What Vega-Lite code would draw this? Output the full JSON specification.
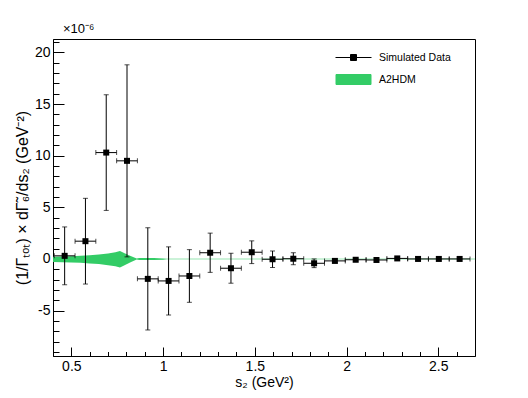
{
  "$schema": "https://vega.github.io/schema/vega-lite/v6.json",
  "width": 422,
  "height": 317,
  "autosize": {"type": "none"},
  "padding": {"left": 53, "top": 39, "right": 53, "bottom": 42},
  "background": "white",
  "config": {
    "view": {"stroke": "black", "strokeWidth": 1},
    "font": "Liberation Sans",
    "axis": {
      "domainColor": "black", "tickColor": "black", "labelColor": "black", "titleColor": "black",
      "grid": false, "labelFont": "Liberation Sans", "titleFont": "Liberation Sans",
      "labelFontSize": 14, "titleFontSize": 14, "titleFontWeight": "normal", "tickWidth": 1, "domainWidth": 1
    }
  },
  "title": {"text": "×10⁻⁶", "anchor": "start", "frame": "group", "fontSize": 13, "fontWeight": "normal", "font": "Liberation Sans", "offset": 3, "dx": 10, "color": "black"},
  "datasets": {
    "sim": [
      {"series": "Simulated Data", "s2": 0.4635, "xlo": 0.4069, "xhi": 0.5201, "y": 0.3, "ylo": -2.5, "yhi": 3.1},
      {"series": "Simulated Data", "s2": 0.5768, "xlo": 0.5202, "xhi": 0.6334, "y": 1.72, "ylo": -2.43, "yhi": 5.87},
      {"series": "Simulated Data", "s2": 0.6901, "xlo": 0.6335, "xhi": 0.7467, "y": 10.3, "ylo": 4.7, "yhi": 15.9},
      {"series": "Simulated Data", "s2": 0.8034, "xlo": 0.7468, "xhi": 0.86, "y": 9.5, "ylo": 0.2, "yhi": 18.8},
      {"series": "Simulated Data", "s2": 0.9167, "xlo": 0.8601, "xhi": 0.9733, "y": -1.93, "ylo": -6.88, "yhi": 3.02},
      {"series": "Simulated Data", "s2": 1.03, "xlo": 0.9734, "xhi": 1.0866, "y": -2.13, "ylo": -5.43, "yhi": 1.17},
      {"series": "Simulated Data", "s2": 1.1433, "xlo": 1.0867, "xhi": 1.1999, "y": -1.65, "ylo": -4.2, "yhi": 0.9},
      {"series": "Simulated Data", "s2": 1.2566, "xlo": 1.2, "xhi": 1.3132, "y": 0.6, "ylo": -1.3, "yhi": 2.5},
      {"series": "Simulated Data", "s2": 1.3699, "xlo": 1.3133, "xhi": 1.4265, "y": -0.9, "ylo": -2.35, "yhi": 0.55},
      {"series": "Simulated Data", "s2": 1.4832, "xlo": 1.4266, "xhi": 1.5398, "y": 0.65, "ylo": -0.45, "yhi": 1.75},
      {"series": "Simulated Data", "s2": 1.5965, "xlo": 1.5399, "xhi": 1.6531, "y": -0.03, "ylo": -0.83, "yhi": 0.77},
      {"series": "Simulated Data", "s2": 1.7098, "xlo": 1.6532, "xhi": 1.7664, "y": 0.02, "ylo": -0.56, "yhi": 0.6},
      {"series": "Simulated Data", "s2": 1.8231, "xlo": 1.7665, "xhi": 1.8797, "y": -0.42, "ylo": -0.84, "yhi": 0.0},
      {"series": "Simulated Data", "s2": 1.9364, "xlo": 1.8798, "xhi": 1.993, "y": -0.19, "ylo": -0.39, "yhi": 0.01},
      {"series": "Simulated Data", "s2": 2.0497, "xlo": 1.9931, "xhi": 2.1063, "y": -0.08, "ylo": -0.2, "yhi": 0.04},
      {"series": "Simulated Data", "s2": 2.163, "xlo": 2.1064, "xhi": 2.2196, "y": -0.1, "ylo": -0.2, "yhi": 0.0},
      {"series": "Simulated Data", "s2": 2.2763, "xlo": 2.2197, "xhi": 2.3329, "y": 0.05, "ylo": -0.03, "yhi": 0.13},
      {"series": "Simulated Data", "s2": 2.3896, "xlo": 2.333, "xhi": 2.4462, "y": 0.0, "ylo": -0.06, "yhi": 0.06},
      {"series": "Simulated Data", "s2": 2.5029, "xlo": 2.4463, "xhi": 2.5595, "y": 0.0, "ylo": -0.05, "yhi": 0.05},
      {"series": "Simulated Data", "s2": 2.6162, "xlo": 2.5596, "xhi": 2.6728, "y": 0.0, "ylo": -0.05, "yhi": 0.05}
    ],
    "band": [
      {"s2": 0.4, "lo": -0.3, "hi": 0.22},
      {"s2": 0.45, "lo": -0.32, "hi": 0.24},
      {"s2": 0.5, "lo": -0.35, "hi": 0.27},
      {"s2": 0.55, "lo": -0.38, "hi": 0.3},
      {"s2": 0.6, "lo": -0.43, "hi": 0.35},
      {"s2": 0.65, "lo": -0.5, "hi": 0.42},
      {"s2": 0.7, "lo": -0.6, "hi": 0.52},
      {"s2": 0.74, "lo": -0.72, "hi": 0.65},
      {"s2": 0.765, "lo": -0.84, "hi": 0.77},
      {"s2": 0.79, "lo": -0.62, "hi": 0.55},
      {"s2": 0.82, "lo": -0.35, "hi": 0.3},
      {"s2": 0.856, "lo": -0.05, "hi": 0.05},
      {"s2": 0.87, "lo": -0.1, "hi": 0.08},
      {"s2": 0.95, "lo": -0.1, "hi": 0.08},
      {"s2": 1.0, "lo": -0.07, "hi": 0.05},
      {"s2": 1.02, "lo": -0.03, "hi": 0.03},
      {"s2": 2.7, "lo": -0.02, "hi": 0.02}
    ]
  },
  "layer": [
    {
      "data": {"name": "band"},
      "mark": {"type": "area", "color": "#33cc66", "opacity": 1},
      "encoding": {
        "x": {"field": "s2", "type": "quantitative",
          "scale": {"domain": [0.4, 2.7], "nice": false, "zero": false},
          "axis": {"orient": "bottom", "title": "s₂ (GeV²)", "values": [0.5, 1, 1.5, 2, 2.5], "tickSize": -9, "labelPadding": 12, "labelExpr": "'' + datum.value", "titlePadding": 2}},
        "y": {"field": "lo", "type": "quantitative",
          "scale": {"domain": [-9.4, 21.3], "nice": false, "zero": false},
          "axis": {"orient": "left", "title": "(1/Γₜₒₜ) × dΓ̃₆/ds₂ (GeV⁻²)", "titleFontSize": 16, "values": [-5, 0, 5, 10, 15, 20], "tickSize": -11, "labelPadding": 14, "labelExpr": "'' + datum.value", "titlePadding": 4}},
        "y2": {"field": "hi"}
      }
    },
    {
      "data": {"name": "sim"},
      "mark": {"type": "errorbar", "ticks": {"size": 5, "thickness": 1}, "thickness": 1, "color": "black"},
      "encoding": {
        "x": {"field": "xlo", "type": "quantitative",
          "axis": {"orient": "bottom", "title": null, "labels": false, "domain": false, "tickSize": -4.5,
            "values": [0.6, 0.7, 0.8, 0.9, 1.1, 1.2, 1.3, 1.4, 1.6, 1.7, 1.8, 1.9, 2.1, 2.2, 2.3, 2.4, 2.6]}},
        "x2": {"field": "xhi"},
        "y": {"field": "y", "type": "quantitative", "axis": null}
      }
    },
    {
      "data": {"name": "sim"},
      "mark": {"type": "errorbar", "ticks": {"size": 5, "thickness": 1}, "thickness": 1, "color": "black"},
      "encoding": {
        "x": {"field": "s2", "type": "quantitative", "axis": null},
        "y": {"field": "ylo", "type": "quantitative",
          "axis": {"orient": "left", "title": null, "labels": false, "domain": false, "tickSize": -6,
            "values": [-9, -8, -7, -6, -4, -3, -2, -1, 1, 2, 3, 4, 6, 7, 8, 9, 11, 12, 13, 14, 16, 17, 18, 19, 21]}},
        "y2": {"field": "yhi"}
      }
    },
    {
      "data": {"name": "sim"},
      "mark": {"type": "square", "size": 36, "color": "black", "opacity": 1},
      "encoding": {
        "x": {"field": "s2", "type": "quantitative", "axis": null},
        "y": {"field": "y", "type": "quantitative", "axis": null}
      }
    },
    {
      "data": {"name": "sim"},
      "mark": {"type": "point", "filled": true, "opacity": 0},
      "encoding": {
        "x": {"field": "s2", "type": "quantitative", "axis": null},
        "y": {"field": "y", "type": "quantitative", "axis": null},
        "fill": {"field": "series", "type": "nominal",
          "scale": {"domain": ["Simulated Data", "A2HDM"], "range": ["black", "#33cc66"]},
          "legend": {"title": null, "orient": "none", "legendX": 295, "legendY": 13, "padding": 0, "symbolSize": 100, "symbolStrokeWidth": 1, "symbolOpacity": 1, "labelOffset": 20, "labelFont": "Liberation Sans", "labelFontSize": 10.5, "labelColor": "black", "rowPadding": 9}},
        "stroke": {"field": "series", "type": "nominal",
          "scale": {"domain": ["Simulated Data", "A2HDM"], "range": ["black", "#33cc66"]},
          "legend": {"title": null, "orient": "none", "legendX": 295, "legendY": 13, "padding": 0, "symbolSize": 100, "symbolStrokeWidth": 1, "symbolOpacity": 1, "labelOffset": 20, "labelFont": "Liberation Sans", "labelFontSize": 10.5, "labelColor": "black", "rowPadding": 9}},
        "shape": {"field": "series", "type": "nominal",
          "scale": {"domain": ["Simulated Data", "A2HDM"], "range": ["M-3.6,0H3.6M-0.6,-0.6H0.6V0.6H-0.6Z", "M-3.5,-1H3.5V1H-3.5Z"]},
          "legend": {"title": null, "orient": "none", "legendX": 295, "legendY": 13, "padding": 0, "symbolSize": 100, "symbolStrokeWidth": 1, "symbolOpacity": 1, "labelOffset": 20, "labelFont": "Liberation Sans", "labelFontSize": 10.5, "labelColor": "black", "rowPadding": 9}}
      }
    }
  ],
  "resolve": {"axis": {"x": "independent", "y": "independent"}}
}
